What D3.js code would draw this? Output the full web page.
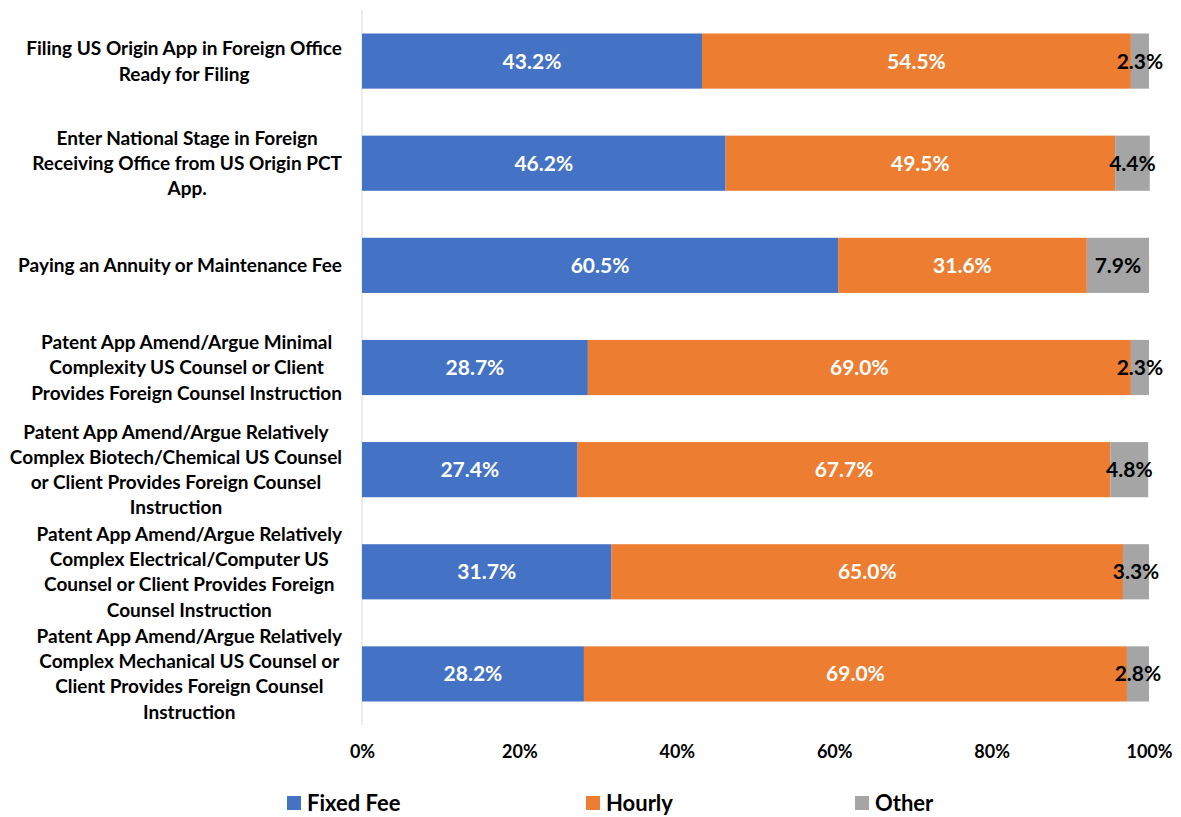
<!DOCTYPE html>
<html><head><meta charset="utf-8">
<script src="https://cdn.jsdelivr.net/npm/d3@7"></script>
<style>body{margin:0;background:#fff;} text{font-family:Lato,"Open Sans",sans-serif;font-weight:bold;}</style>
</head><body>
<svg id="c" width="1181" height="817"></svg>
<script>
const categories = [
  ["Filing US Origin App in Foreign Office","Ready for Filing"],
  ["Enter National Stage in Foreign","Receiving Office from US Origin PCT","App."],
  ["Paying an Annuity or Maintenance Fee"],
  ["Patent App Amend/Argue Minimal","Complexity US Counsel or Client","Provides Foreign Counsel Instruction"],
  ["Patent App Amend/Argue Relatively","Complex Biotech/Chemical US Counsel","or Client Provides Foreign Counsel","Instruction"],
  ["Patent App Amend/Argue Relatively","Complex Electrical/Computer US","Counsel or Client Provides Foreign","Counsel Instruction"],
  ["Patent App Amend/Argue Relatively","Complex Mechanical US Counsel or","Client Provides Foreign Counsel","Instruction"]
];
const seriesNames = ["Fixed Fee","Hourly","Other"];
const fixedFee = [43.2,46.2,60.5,28.7,27.4,31.7,28.2];
const hourly   = [54.5,49.5,31.6,69.0,67.7,65.0,69.0];
const other    = [2.3,4.4,7.9,2.3,4.8,3.3,2.8];
const tickValues = [0,20,40,60,80,100];
const colors = ["#4472C4","#ED7D31","#A5A5A5"];
const labelColors = ["#fff","#fff","#000"];

const svg = d3.select("#c");
const x = d3.scaleLinear().domain([0,100]).range([362,1149]);
const y = d3.scaleBand().domain(d3.range(categories.length)).range([10,725]).paddingInner(0.46).paddingOuter(0.23);

svg.append("line").attr("x1",x(0)).attr("x2",x(0)).attr("y1",10).attr("y2",725).attr("stroke","#d9d9d9").attr("stroke-width",1);

const series = [fixedFee,hourly,other];
const rows = categories.map((c,i)=>{let s=0;return series.map((arr,k)=>{const r={i,k,x0:s,x1:s+arr[i],v:arr[i]};s+=arr[i];return r;});});
const segs = rows.flat();
svg.append("g").selectAll("rect").data(segs).join("rect")
  .attr("x",d=>x(d.x0)).attr("width",d=>x(d.x1)-x(d.x0))
  .attr("y",d=>y(d.i)).attr("height",y.bandwidth())
  .attr("fill",d=>colors[d.k]);
svg.append("g").selectAll("text").data(segs).join("text")
  .attr("x",d=>(x(d.x0)+x(d.x1))/2).attr("y",d=>y(d.i)+y.bandwidth()/2)
  .attr("dy","0.36em").attr("text-anchor","middle").attr("font-size",21)
  .attr("fill",d=>labelColors[d.k]).text(d=>d.v.toFixed(1)+"%");

// category labels
const lh = 25.3;
categories.forEach((lines,i)=>{
  const g = svg.append("g");
  const t = g.append("text").attr("font-size",19).attr("text-anchor","middle");
  const cy = y(i)+y.bandwidth()/2;
  const y0 = cy - (lines.length-1)*lh/2;
  lines.forEach((l,j)=>t.append("tspan").attr("x",0).attr("y",y0+j*lh).attr("dy","0.36em").text(l));
  let maxW = 0; t.selectAll("tspan").each(function(){maxW=Math.max(maxW,this.getComputedTextLength());});
  t.selectAll("tspan").attr("x",342-maxW/2);
});

// x axis
const ax = svg.append("g").attr("transform","translate(0,752)")
  .call(d3.axisBottom(x).tickValues(tickValues).tickFormat(d=>d+"%").tickSize(0));
ax.select(".domain").remove();
ax.selectAll("text").attr("font-size",18).attr("fill","#000").attr("dy","0.36em").attr("y",0)
  .style("font-family","Lato, sans-serif").style("font-weight","bold");

// legend
const legX = [287,586,855];
seriesNames.forEach((n,k)=>{
  svg.append("rect").attr("x",legX[k]).attr("y",796).attr("width",14).attr("height",14).attr("fill",colors[k]);
  svg.append("text").attr("x",legX[k]+20).attr("y",803).attr("dy","0.36em").attr("font-size",22).attr("fill","#000").text(n);
});
</script>
</body></html>
